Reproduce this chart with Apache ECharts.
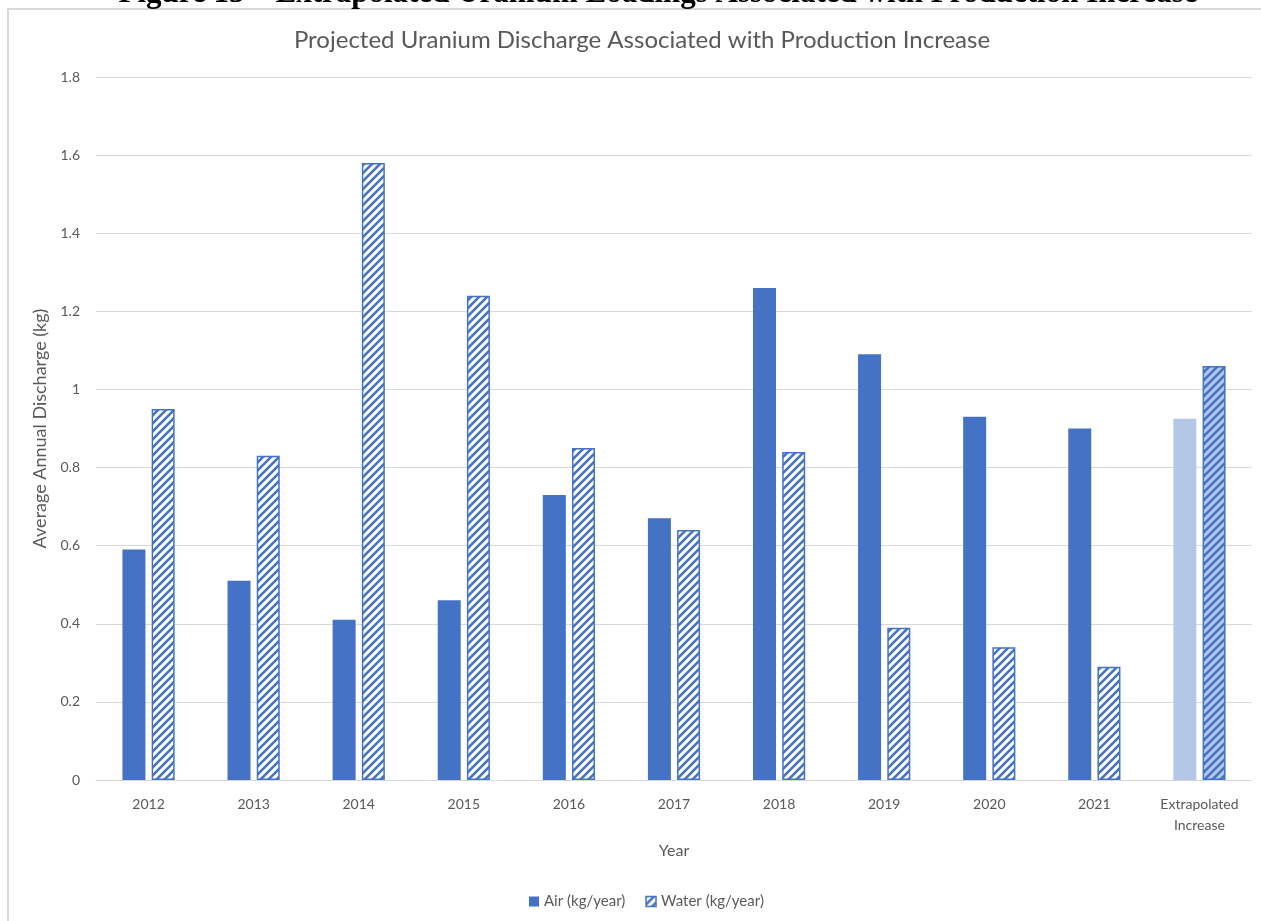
<!DOCTYPE html>
<html>
<head>
<meta charset="utf-8">
<script src="https://cdn.jsdelivr.net/npm/echarts@6/dist/echarts.min.js"></script>
<style>
html,body{margin:0;padding:0;background:#fff;}
#chart{width:1261px;height:921px;}
</style>
</head>
<body>
<div id="chart"></div>
<script>
const categories = ['2012','2013','2014','2015','2016','2017','2018','2019','2020','2021','Extrapolated\nIncrease'];
const airValues = [0.59, 0.51, 0.41, 0.46, 0.73, 0.67, 1.26, 1.09, 0.93, 0.90, 0.925];
const waterValues = [0.95, 0.83, 1.58, 1.24, 0.85, 0.64, 0.84, 0.39, 0.34, 0.29, 1.06];
const seriesNames = ['Air (kg/year)', 'Water (kg/year)'];
const yTicks = { min: 0, max: 1.8, interval: 0.2 };
const titleText = 'Projected Uranium Discharge Associated with Production Increase';
const captionText = 'Figure 13 \u2013 Extrapolated Uranium Loadings Associated with Production Increase';

const BLUE = '#4472C4';
const LIGHT = '#B4C7E7';
const GRAY_TEXT = '#595959';
const GRID_GRAY = '#D9D9D9';

function hatch(bg) {
  const s = 8;
  const c = document.createElement('canvas');
  c.width = s; c.height = s;
  const g = c.getContext('2d');
  g.fillStyle = bg;
  g.fillRect(0, 0, s, s);
  g.strokeStyle = BLUE;
  g.lineWidth = 2.6;
  g.beginPath();
  g.moveTo(-2, s + 2); g.lineTo(s + 2, -2);
  g.moveTo(-2, 2); g.lineTo(2, -2);
  g.moveTo(s - 2, s + 2); g.lineTo(s + 2, s - 2);
  g.stroke();
  return { image: c, repeat: 'repeat' };
}

const hatchWhite = hatch('#ffffff');
const hatchLight = hatch(LIGHT);
const last = categories.length - 1;

const airData = airValues.map((v, i) => i === last ? { value: v, itemStyle: { color: LIGHT } } : v);
const waterData = waterValues.map((v, i) => i === last ? { value: v, itemStyle: { color: hatchLight } } : v);

const chart = echarts.init(document.getElementById('chart'), null, { renderer: 'canvas' });
const FONT = 'Lato, "Open Sans", sans-serif';

chart.setOption({
  animation: false,
  backgroundColor: '#ffffff',
  textStyle: { fontFamily: FONT },
  title: {
    text: titleText,
    left: 637,
    top: 23,
    textAlign: 'center',
    textStyle: { fontFamily: FONT, fontSize: 24, fontWeight: 'normal', color: GRAY_TEXT }
  },
  graphic: [
    {
      type: 'rect',
      shape: { x: 8, y: 9, width: 1300, height: 1000 },
      style: { fill: 'none', stroke: GRID_GRAY, lineWidth: 2 },
      silent: true, z: -1
    },
    {
      type: 'text',
      x: 658, y: -6,
      style: {
        text: captionText,
        font: 'bold 31px "Liberation Serif", "Times New Roman", serif',
        fill: '#000',
        align: 'center',
        verticalAlign: 'middle'
      },
      silent: true
    }
  ],
  legend: {
    data: [
      { name: seriesNames[0], itemStyle: { color: BLUE } },
      { name: seriesNames[1], itemStyle: { color: hatchWhite, borderColor: BLUE, borderWidth: 1.5 } }
    ],
    left: 524,
    top: 889,
    itemWidth: 10,
    itemHeight: 10,
    itemGap: 20,
    icon: 'rect',
    textStyle: { fontFamily: FONT, fontSize: 15, color: GRAY_TEXT }
  },
  grid: { left: 96, right: 9, top: 77, bottom: 141, containLabel: false },
  xAxis: {
    type: 'category',
    data: categories,
    name: 'Year',
    nameLocation: 'middle',
    nameGap: 63,
    nameTextStyle: { fontFamily: FONT, fontSize: 16, color: GRAY_TEXT },
    axisLine: { show: true, lineStyle: { color: GRID_GRAY, width: 1 } },
    axisTick: { show: false },
    axisLabel: { fontFamily: FONT, fontSize: 14, color: GRAY_TEXT, margin: 14, lineHeight: 21, interval: 0 }
  },
  yAxis: {
    type: 'value',
    min: yTicks.min,
    max: yTicks.max,
    interval: yTicks.interval,
    name: 'Average Annual Discharge (kg)',
    nameLocation: 'middle',
    nameGap: 40,
    nameTextStyle: { fontFamily: FONT, fontSize: 18, color: GRAY_TEXT },
    axisLine: { show: false },
    axisTick: { show: false },
    axisLabel: { fontFamily: FONT, fontSize: 14, color: GRAY_TEXT, margin: 16,
      formatter: v => String(Math.round(v * 10) / 10) },
    splitLine: { show: true, lineStyle: { color: GRID_GRAY, width: 1 } }
  },
  series: [
    {
      name: seriesNames[0],
      type: 'bar',
      data: airData,
      barWidth: 23,
      barGap: '27%',
      itemStyle: { color: BLUE }
    },
    {
      name: seriesNames[1],
      type: 'bar',
      data: waterData,
      barWidth: 23,
      itemStyle: { color: hatchWhite, borderColor: BLUE, borderWidth: 1.5 }
    }
  ]
});
</script>
</body>
</html>
